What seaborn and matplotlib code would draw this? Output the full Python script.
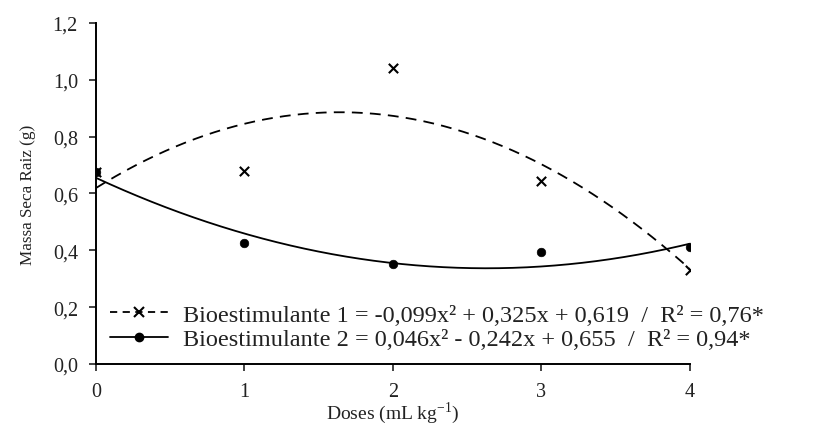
import numpy as np
import pandas as pd
import matplotlib
matplotlib.use("Agg")
import matplotlib.pyplot as plt
from matplotlib.lines import Line2D
from matplotlib.ticker import FixedLocator, FixedFormatter
import seaborn as sns

# Observed root dry mass (g) per dose (mL kg-1)
doses = [0, 1, 2, 3, 4]
bio1_obs = [0.675, 0.68, 1.04, 0.645, 0.33]
bio2_obs = [0.675, 0.425, 0.352, 0.393, 0.413]

# Quadratic regression coefficients (a, b, c) for y = a x^2 + b x + c
bio1_coef = [-0.099, 0.325, 0.619]
bio2_coef = [0.046, -0.242, 0.655]

labels = [
    "Bioestimulante 1 = -0,099x² + 0,325x + 0,619  /  R² = 0,76*",
    "Bioestimulante 2 = 0,046x² - 0,242x + 0,655  /  R² = 0,94*",
]
y_ticks = [0.0, 0.2, 0.4, 0.6, 0.8, 1.0, 1.2]
y_ticklabels = ["0,0", "0,2", "0,4", "0,6", "0,8", "1,0", "1,2"]
x_ticks = [0, 1, 2, 3, 4]
x_ticklabels = ["0", "1", "2", "3", "4"]

sns.set_theme(style="ticks")
plt.rcParams["font.family"] = ["Liberation Serif", "DejaVu Serif"]
plt.rcParams["mathtext.fontset"] = "custom"
plt.rcParams["mathtext.rm"] = "Liberation Serif"

fig = plt.figure(figsize=(8.2, 4.35), dpi=100)
ax = fig.add_axes([0.117, 0.161, 0.724, 0.784])

xs = np.linspace(0, 4, 300)
fit = pd.DataFrame({
    "x": np.concatenate([xs, xs]),
    "y": np.concatenate([np.polyval(bio1_coef, xs), np.polyval(bio2_coef, xs)]),
    "serie": ["B1"] * len(xs) + ["B2"] * len(xs),
})
obs = pd.DataFrame({
    "x": doses + doses,
    "y": bio1_obs + bio2_obs,
    "serie": ["B1"] * 5 + ["B2"] * 5,
})

sns.lineplot(data=fit[fit.serie == "B1"], x="x", y="y", ax=ax, color="black",
             linewidth=1.3, linestyle=(0, (6, 4)), legend=False)
sns.lineplot(data=fit[fit.serie == "B2"], x="x", y="y", ax=ax, color="black",
             linewidth=1.3, legend=False)
sns.scatterplot(data=obs[obs.serie == "B1"], x="x", y="y", ax=ax, marker="x",
                color="black", s=45, linewidth=1.5, legend=False, zorder=4)
sns.scatterplot(data=obs[obs.serie == "B2"], x="x", y="y", ax=ax, marker="o",
                color="black", s=38, edgecolor="black", legend=False, zorder=4)

ax.set_xlim(0, 4)
ax.set_ylim(0, 1.2)
ax.xaxis.set_major_locator(FixedLocator(x_ticks))
ax.xaxis.set_major_formatter(FixedFormatter(x_ticklabels))
ax.yaxis.set_major_locator(FixedLocator(y_ticks))
ax.yaxis.set_major_formatter(FixedFormatter(y_ticklabels))
ax.tick_params(axis="both", labelsize=14.5, colors="#222222", length=5, width=1.2,
               direction="out", pad=8)
for side in ("top", "right"):
    ax.spines[side].set_visible(False)
for side in ("left", "bottom"):
    ax.spines[side].set_color("black")
    ax.spines[side].set_linewidth(1.4)

ax.set_xlabel(r"Doses (mL kg$^{\mathrm{-1}}$)", fontsize=14, labelpad=-1,
              color="#222222")
ax.set_ylabel("Massa Seca Raiz (g)", fontsize=12.3, labelpad=12, color="#222222")

handles = [
    Line2D([], [], color="black", linewidth=1.3, linestyle=(0, (4, 3)),
           marker="x", markersize=6.5, markeredgewidth=1.5),
    Line2D([], [], color="black", linewidth=1.3, marker="o", markersize=6),
]
leg = ax.legend(handles, labels, loc="lower left", bbox_to_anchor=(-0.005, -0.01),
                frameon=False, fontsize=17.5, handlelength=2.4, handletextpad=0.6,
                labelspacing=0.1, borderaxespad=0.3)
for t in leg.get_texts():
    t.set_color("#222222")

fig.savefig("out.png", dpi=100, facecolor="white")
